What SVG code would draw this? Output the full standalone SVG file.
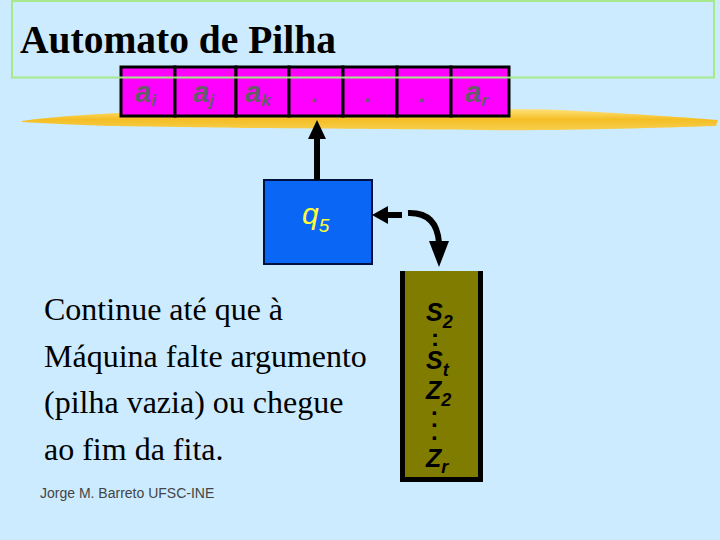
<svg xmlns="http://www.w3.org/2000/svg" width="720" height="540" viewBox="0 0 720 540">
  <defs>
    <linearGradient id="brush" x1="0" y1="0" x2="0" y2="1">
      <stop offset="0" stop-color="#FFE27A"/>
      <stop offset="0.5" stop-color="#F4BE24"/>
      <stop offset="1" stop-color="#F7CF4E"/>
    </linearGradient>
  </defs>
  <style>
    .cell { fill: #FF00FF; stroke: #000000; stroke-width: 3; }
    .tapeTxt { font-family: "Liberation Sans", Arial, sans-serif; font-weight: bold; font-style: italic; fill: #655E68; }
    .stackTxt { font-family: "Liberation Sans", Arial, sans-serif; font-style: italic; font-weight: bold; fill: #000000; }
    .dots { font-family: "Liberation Sans", Arial, sans-serif; font-weight: bold; fill: #000000; }
    .serif { font-family: "Liberation Serif", "Tinos", "Times New Roman", Times, serif; fill: #000000; }
    .body { font-size: 32px; }
    .conn { stroke: #000000; stroke-width: 6; fill: none; }
    .head { fill: #000000; }
  </style>
  <rect x="0" y="0" width="720" height="540" fill="#CCEBFF"/>

  <!-- brush stroke under tape -->
  <path d="M22,121 C50,117 90,114 140,112 L300,112 C400,109 500,108 560,110 C620,113 680,117 718,120 L716,126 C650,128 560,131 480,130 C380,129 200,128 110,126 C70,125 45,123 22,122 Z" fill="url(#brush)"/>

  <g id="tape">
    <rect class="cell" x="121" y="67" width="54" height="49"/>
    <rect class="cell" x="175" y="67" width="61" height="49"/>
    <rect class="cell" x="236" y="67" width="53" height="49"/>
    <rect class="cell" x="289" y="67" width="54" height="49"/>
    <rect class="cell" x="343" y="67" width="54" height="49"/>
    <rect class="cell" x="397" y="67" width="54" height="49"/>
    <rect class="cell" x="451" y="67" width="58" height="49"/>
    <text class="tapeTxt" x="135" y="102" font-size="29">a<tspan font-size="17" dy="4">i</tspan></text>
    <text class="tapeTxt" x="193" y="102" font-size="29">a<tspan font-size="17" dy="4">j</tspan></text>
    <text class="tapeTxt" x="245" y="102" font-size="29">a<tspan font-size="17" dy="4">k</tspan></text>
    <text class="tapeTxt" x="312" y="102" font-size="22">.</text>
    <text class="tapeTxt" x="365" y="102" font-size="22">.</text>
    <text class="tapeTxt" x="419" y="102" font-size="22">.</text>
    <text class="tapeTxt" x="465" y="102" font-size="29">a<tspan font-size="17" dy="4">r</tspan></text>
  </g>

  <g id="title">
    <rect x="12" y="1" width="702" height="76.5" fill="none" stroke="#A6E88A" stroke-width="2"/>
    <text class="serif" x="20" y="53" font-size="39.5" font-weight="bold">Automato de Pilha</text>
  </g>

  <g id="state">
    <rect x="264" y="180" width="108" height="84" fill="#0A66F5" stroke="#001040" stroke-width="2"/>
    <text x="302" y="224" font-family="Liberation Sans, Arial, sans-serif" font-style="italic" font-size="30" fill="#FFFF33">q<tspan font-size="19" dy="8">5</tspan></text>
  </g>

  <g id="stack">
    <rect x="400" y="271" width="83" height="211" fill="#000000"/>
    <rect x="405" y="271" width="73" height="206" fill="#807C00"/>
    <text class="stackTxt" x="426" y="321" font-size="25">S<tspan font-size="18" dy="7">2</tspan></text>
    <text class="dots" x="431" y="346" font-size="24">:</text>
    <text class="stackTxt" x="426" y="369" font-size="25">S<tspan font-size="18" dy="7">t</tspan></text>
    <text class="stackTxt" x="426" y="399" font-size="25">Z<tspan font-size="18" dy="7">2</tspan></text>
    <text class="dots" font-size="24"><tspan x="431" y="415">.</tspan><tspan x="431" y="427">.</tspan><tspan x="431" y="440">.</tspan></text>
    <text class="stackTxt" x="426" y="467" font-size="25">Z<tspan font-size="18" dy="6">r</tspan></text>
  </g>

  <g id="connectors">
    <line class="conn" x1="317" y1="180" x2="317" y2="136"/>
    <polygon class="head" points="317,120 308,139 326,139"/>
    <line class="conn" x1="385" y1="215" x2="402" y2="215"/>
    <polygon class="head" points="372,215 388,206 388,224"/>
    <path class="conn" d="M408,213 Q437,212 439,243"/>
    <polygon class="head" points="439,267 429,241 449,241"/>
  </g>

  <g id="description">
    <text class="serif body" x="44" y="320">Continue até que à</text>
    <text class="serif body" x="44" y="367">Máquina falte argumento</text>
    <text class="serif body" x="44" y="413">(pilha vazia) ou chegue</text>
    <text class="serif body" x="44" y="460">ao fim da fita.</text>
  </g>

  <g id="footer">
    <text x="40" y="498" font-family="Liberation Sans, Arial, sans-serif" font-size="14" fill="#444444">Jorge M. Barreto UFSC-INE</text>
  </g>
</svg>
